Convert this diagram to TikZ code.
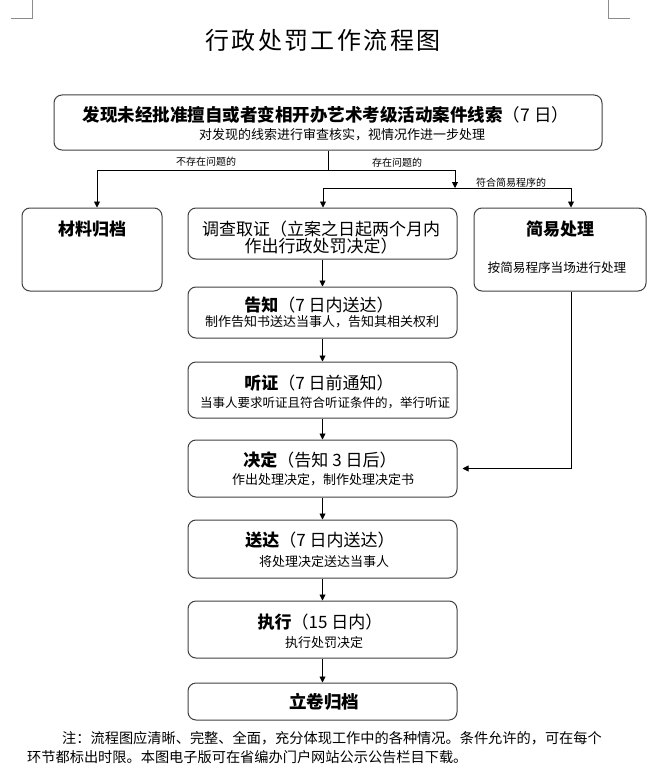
\documentclass[tikz,border=0pt]{standalone}
\usepackage{fontspec}
\setmainfont{Noto Sans CJK SC}
\usetikzlibrary{arrows.meta,calc}
\begin{document}
\begin{tikzpicture}[x=1pt,y=-1pt,
  box/.style={draw=black!75, line width=1pt, rounded corners=8pt, inner sep=0pt},
  ln/.style={draw=black, line width=0.9pt},
  arr/.style={ln, -{Triangle[length=6pt,width=6pt]}},
  head/.style={inner sep=0pt, font=\fontsize{17}{20}\selectfont},
  sub/.style={inner sep=0pt, font=\fontsize{13}{15}\selectfont},
  lbl/.style={inner sep=0pt, font=\fontsize{10}{12}\selectfont},
  note/.style={inner sep=0pt, anchor=west, font=\fontsize{14.2}{16}\selectfont},
  cornermark/.style={draw=black!45, line width=0.7pt}
]
\useasboundingbox (0,0) rectangle (648,781);
% corner marks
\draw[cornermark] (32,0) -- (32,18) -- (11,18);
\draw[cornermark] (608,0) -- (608,18) -- (630,18);
% title
\node[inner sep=0pt, font=\fontsize{24}{28}\selectfont\addfontfeature{LetterSpace=10}] (title) at (323,40) {行政处罚工作流程图};
% boxes
\node[box, minimum width=548pt, minimum height=55pt] (top) at (328,122.5) {};
\node[box, minimum width=140pt, minimum height=83pt] (mat) at (92,249.5) {};
\node[box, minimum width=269pt, minimum height=51pt] (inv) at (322.5,233.5) {};
\node[box, minimum width=172pt, minimum height=83pt] (simp) at (560,249.5) {};
\node[box, minimum width=269pt, minimum height=51pt] (noti) at (322.5,312.5) {};
\node[box, minimum width=269pt, minimum height=56pt] (hear) at (322.5,390) {};
\node[box, minimum width=269pt, minimum height=57pt] (deci) at (322.5,468.5) {};
\node[box, minimum width=269pt, minimum height=58pt] (deliv) at (322.5,549) {};
\node[box, minimum width=269pt, minimum height=57pt] (exec) at (322.5,629.5) {};
\node[box, minimum width=269pt, minimum height=37pt] (arch) at (322.5,701.5) {};
% texts
\node[head, font=\fontsize{17.5}{20}\selectfont] (t1a) at (326,115) {\textbf{发现未经批准擅自或者变相开办艺术考级活动案件线索}（7 日）};
\node[sub] (t1b) at (342,135) {对发现的线索进行审查核实，视情况作进一步处理};
\node[head] (t2) at (92,229) {\textbf{材料归档}};
\node[head, align=center, font=\fontsize{17}{17}\selectfont] (t3) at (321,237.5) {调查取证（立案之日起两个月内\\作出行政处罚决定）};
\node[head] (t4a) at (560,229) {\textbf{简易处理}};
\node[sub, font=\fontsize{12.6}{15}\selectfont] (t4b) at (557,268) {按简易程序当场进行处理};
\node[head] (t5a) at (319,305) {\textbf{告知}（7 日内送达）};
\node[sub] (t5b) at (322,322) {制作告知书送达当事人，告知其相关权利};
\node[head] (t6a) at (319,383) {\textbf{听证}（7 日前通知）};
\node[sub, font=\fontsize{12.5}{15}\selectfont] (t6b) at (325,403) {当事人要求听证且符合听证条件的，举行听证};
\node[head] (t7a) at (320,460) {\textbf{决定}（告知 3 日后）};
\node[sub] (t7b) at (323,480) {作出处理决定，制作处理决定书};
\node[head] (t8a) at (320,540) {\textbf{送达}（7 日内送达）};
\node[sub] (t8b) at (324,562) {将处理决定送达当事人};
\node[head] (t9a) at (320,622) {\textbf{执行}（15 日内）};
\node[sub] (t9b) at (324,643) {执行处罚决定};
\node[head, font=\fontsize{17.5}{20}\selectfont] (t10) at (324,702) {\textbf{立卷归档}};
% labels
\node[lbl] (l1) at (206,162) {不存在问题的};
\node[lbl] (l2) at (397,163) {存在问题的};
\node[lbl] (l3) at (511,183) {符合简易程序的};
% connectors
\coordinate (jc) at (328,170);
\coordinate (jl) at (97,170);
\coordinate (jr) at (455,170);
\coordinate (js) at (455,188);
\coordinate (ka) at (323,188);
\coordinate (kb) at (571,188);
\coordinate (kc) at (571,468.5);
\draw[ln] (top.south) -- (jc);
\draw[ln] (jl) -- (jr);
\draw[arr] (jl) -- (jl |- mat.north);
\draw[arr] (jr) -- (js);
\draw[ln] (ka) -- (kb);
\draw[arr] (ka) -- (ka |- inv.north);
\draw[arr] (kb) -- (kb |- simp.north);
\draw[arr] (inv.south) -- (noti.north);
\draw[arr] (noti.south) -- (hear.north);
\draw[arr] (hear.south) -- (deci.north);
\draw[arr] (deci.south) -- (deliv.north);
\draw[arr] (deliv.south) -- (exec.north);
\draw[arr] (exec.south) -- (arch.north);
\draw[ln] (kb |- simp.south) -- (kc);
\draw[arr] (kc) -- ($(deci.east)+(5,0)$);
% note
\node[note] (n1) at (62,738) {注：流程图应清晰、完整、全面，充分体现工作中的各种情况。条件允许的，可在每个};
\node[note] (n2) at (27,757) {环节都标出时限。本图电子版可在省编办门户网站公示公告栏目下载。};
\end{tikzpicture}
\end{document}
